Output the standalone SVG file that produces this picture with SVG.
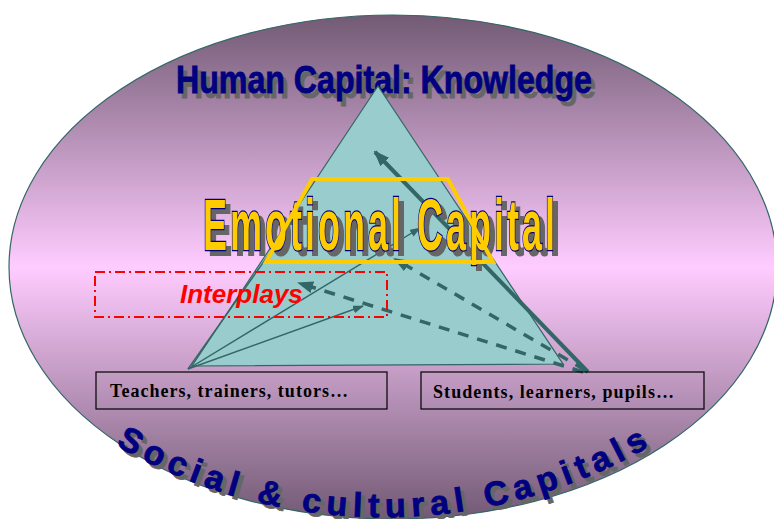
<svg xmlns="http://www.w3.org/2000/svg" width="774" height="519" viewBox="0 0 774 519">
<style>
.ln{stroke:#336666;fill:none}
.thick{stroke-width:4}
.dash{stroke-width:3.5;stroke-dasharray:11 9}
.thin{stroke-width:1.4}
.box{fill:none;stroke:#000;stroke-width:1.2}
.lbl{font-family:"Liberation Serif","Times New Roman",serif;font-weight:bold;font-size:18px;fill:#000}
.navy{font-family:"Liberation Sans",Arial,sans-serif;font-weight:bold;fill:#000080;stroke:#000080;stroke-width:0.8}
.shadow{fill:#666;stroke:#666}
.emo{font-family:"Liberation Sans",Arial,sans-serif;font-weight:bold;font-size:72px;letter-spacing:6px}
</style>
<defs>
<linearGradient id="bg" x1="0" y1="0" x2="0" y2="1">
<stop offset="0" stop-color="#725a74"/>
<stop offset="0.5" stop-color="#ffccff"/>
<stop offset="1" stop-color="#725a74"/>
</linearGradient>
<marker id="big" viewBox="0 0 16 12" refX="14" refY="6" markerWidth="16" markerHeight="12" markerUnits="userSpaceOnUse" orient="auto">
<path d="M0,0 L16,6 L0,12 z" fill="#336666"/>
</marker>
<marker id="small" viewBox="0 0 11 8" refX="10" refY="4" markerWidth="11" markerHeight="8" markerUnits="userSpaceOnUse" orient="auto">
<path d="M0,0 L11,4 L0,8 z" fill="#336666"/>
</marker>
<path id="arc" d="M 100,436 A 535 535 0 0 0 670,434"/>
</defs>

<g id="background">
<ellipse cx="393" cy="267" rx="384" ry="252" fill="url(#bg)" stroke="#336666" stroke-width="1.2"/>
</g>

<g id="human-capital">
<text class="navy shadow" x="180" y="98" font-size="39" textLength="416" lengthAdjust="spacingAndGlyphs">Human Capital: Knowledge</text>
<text class="navy" x="176" y="93" font-size="39" textLength="416" lengthAdjust="spacingAndGlyphs">Human Capital: Knowledge</text>
</g>

<g id="pyramid">
<polygon points="378,86 192,366 563,364" fill="#99cccc" stroke="#336666" stroke-width="1.2"/>
</g>

<g id="connectors">
<line class="ln thick" x1="588" y1="372" x2="375" y2="152" marker-end="url(#big)"/>
<line class="ln dash" x1="585" y1="370" x2="395" y2="259" marker-end="url(#big)"/>
<line class="ln dash" x1="583" y1="372" x2="299" y2="283" marker-end="url(#big)"/>
<line class="ln thin" x1="188" y1="369" x2="363" y2="306" marker-end="url(#small)"/>
<line class="ln thin" x1="188" y1="369" x2="420" y2="228" marker-end="url(#small)"/>
<line class="ln thin" x1="188" y1="369" x2="296" y2="216" marker-end="url(#small)"/>
</g>

<g id="emotional-capital">
<text class="emo" transform="translate(208,255) scale(0.5,1)" fill="#666" stroke="#666" stroke-width="2" paint-order="stroke">Emotional Capital</text>
<text class="emo" transform="translate(203,250) scale(0.5,1)" fill="#ffcc00" stroke="#000080" stroke-width="2.4" paint-order="stroke">Emotional Capital</text>
<polygon points="312,179 448,179 493,262 266,262" fill="none" stroke="#ffcc00" stroke-width="4" stroke-linejoin="miter"/>
</g>

<g id="interplays">
<rect x="95" y="272" width="292" height="45" fill="none" stroke="#ff0000" stroke-width="2" stroke-dasharray="10 4 2 4"/>
<text x="180" y="303" font-family="'Liberation Sans',Arial,sans-serif" font-weight="bold" font-style="italic" font-size="26" fill="#ff0000">Interplays</text>
</g>

<g id="teachers">
<rect class="box" x="96" y="372" width="291" height="37"/>
<text class="lbl" x="110" y="397" textLength="238">Teachers, trainers, tutors…</text>
</g>

<g id="students">
<rect class="box" x="421" y="372" width="283" height="37"/>
<text class="lbl" x="433" y="398" textLength="241">Students, learners, pupils…</text>
</g>

<g id="social-cultural">
<text class="navy shadow" font-size="34" letter-spacing="6" text-anchor="middle" stroke-width="1.8" transform="translate(4,4)"><textPath href="#arc" startOffset="50%">Social &amp; cultural Capitals</textPath></text>
<text class="navy" font-size="34" letter-spacing="6" text-anchor="middle" stroke-width="1.8"><textPath href="#arc" startOffset="50%">Social &amp; cultural Capitals</textPath></text>
</g>
</svg>
